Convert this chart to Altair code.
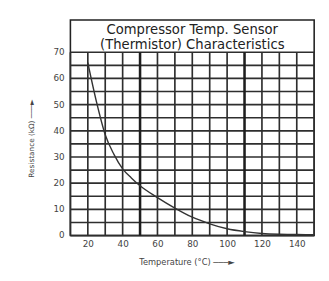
import altair as alt
import pandas as pd

# Curve values
temps = [20, 25, 30, 35, 40, 45, 50, 60, 70, 80, 90, 100, 110, 120, 130, 140, 150]
resist = [66, 51, 38.5, 31, 25.5, 22, 19, 14.5, 10.5, 7, 4.5, 2.6, 1.5, 0.8, 0.5, 0.4, 0.3]

x_ticks = [20, 40, 60, 80, 100, 120, 140]
y_ticks = [0, 10, 20, 30, 40, 50, 60, 70]
x_grid = list(range(10, 151, 10))
x_heavy = [50, 110]
y_grid = list(range(0, 71, 5))
title_lines = ["Compressor Temp. Sensor", "(Thermistor) Characteristics"]
title_vals = [78.6, 72.9]

curve = pd.DataFrame({"t": temps, "r": resist})
vg = pd.DataFrame({"t": [v for v in x_grid if v not in x_heavy]})
vh = pd.DataFrame({"t": x_heavy})
hg = pd.DataFrame({"r": y_grid})
tt = pd.DataFrame({"txt": title_lines, "r": title_vals})
yl = pd.DataFrame({"r": y_ticks, "lab": [str(v) for v in y_ticks]})

FONT = "DejaVu Sans"
GRID = "#2e2e2e"

xs = alt.Scale(domain=[10, 150], nice=False, zero=False)
ys = alt.Scale(domain=[0, 82.29], nice=False)

xaxis = alt.Axis(values=x_ticks, grid=False, domain=False, ticks=False,
                 labelFont=FONT, labelFontSize=9, labelColor="#444",
                 labelPadding=4, labelOverlap=False,
                 title="Temperature (°C)  ───►",
                 titleFont=FONT, titleFontSize=8.5, titleFontWeight="normal",
                 titleColor="#444", titleX=119, titleY=27, titleBaseline="middle")
yaxis = alt.Axis(values=y_ticks, grid=False, domain=False, ticks=False,
                 labels=False,
                 title="Resistance (kΩ)  ───►",
                 titleFont=FONT, titleFontSize=7.5, titleFontWeight="normal",
                 titleColor="#444", titleX=-40, titleY=121,
                 titleBaseline="middle", titleAngle=270)

X = lambda: alt.X("t:Q", scale=xs, axis=xaxis)
Y = lambda: alt.Y("r:Q", scale=ys, axis=yaxis)

hlines = alt.Chart(hg).mark_rule(color=GRID, strokeWidth=1.7).encode(y=Y())
vlines = alt.Chart(vg).mark_rule(color=GRID, strokeWidth=1.7).encode(
    x=X(), y=alt.datum(0), y2=alt.datum(70))
vheavy = alt.Chart(vh).mark_rule(color="#1e1e1e", strokeWidth=2.6).encode(
    x=X(), y=alt.datum(0), y2=alt.datum(70))
line = alt.Chart(curve).mark_line(color="#333", strokeWidth=1.4,
                                  interpolate="monotone").encode(x=X(), y=Y())
title = alt.Chart(tt).mark_text(font=FONT, fontSize=13.5, color="#222",
                                baseline="middle").encode(
    x=alt.datum(80), y=Y(), text="txt:N")
ylabels = alt.Chart(yl).mark_text(font=FONT, fontSize=9, color="#444",
                                  align="right", baseline="middle", dx=-6).encode(
    x=alt.datum(10), y=Y(), text="lab:N")

chart = (hlines + vlines + vheavy + line + title + ylabels).properties(
    width=250, height=221,
    autosize=alt.AutoSizeParams(type="none"),
    padding={"left": 64, "top": 9, "right": 7, "bottom": 35},
    background="white",
).configure_view(stroke="#222", strokeWidth=1.6)

chart.save("out.html", embed_options={"renderer": "svg", "actions": False})
